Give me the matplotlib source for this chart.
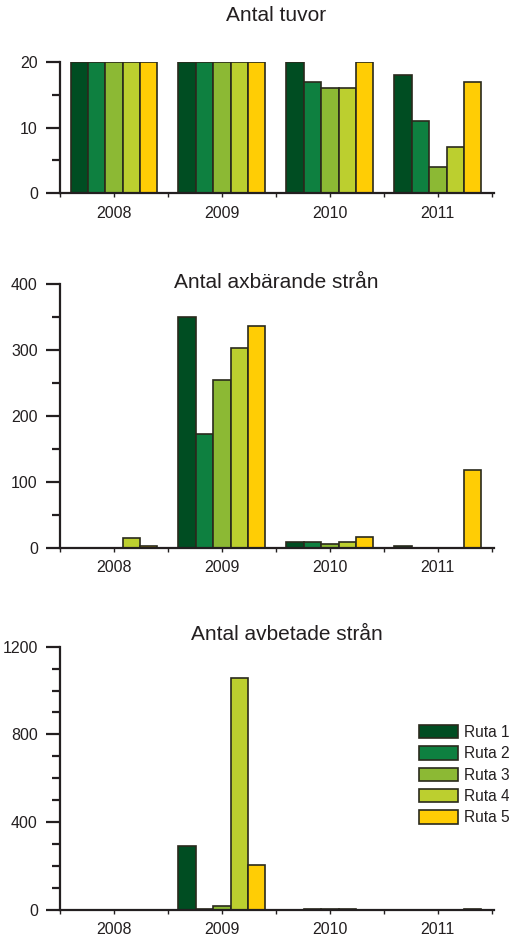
import numpy as np
import matplotlib
matplotlib.use("Agg")
import matplotlib.pyplot as plt
from matplotlib.ticker import MultipleLocator, FixedLocator

# ==========================================
# DATA
# ==========================================

years = ["2008", "2009", "2010", "2011"]
rutor = ["Ruta 1", "Ruta 2", "Ruta 3", "Ruta 4", "Ruta 5"]
colors = ["#004d22", "#0e8040", "#8cb934", "#bccf2f", "#ffcd05"]

# Antal tuvor
tuvor_r1 = [20, 20, 20, 18]
tuvor_r2 = [20, 20, 17, 11]
tuvor_r3 = [20, 20, 16, 4]
tuvor_r4 = [20, 20, 16, 7]
tuvor_r5 = [20, 20, 20, 17]

# Antal axbärande strån
ax_r1 = [0, 350, 8, 2]
ax_r2 = [0, 173, 8, 0]
ax_r3 = [0, 254, 5, 0]
ax_r4 = [14, 303, 8, 0]
ax_r5 = [2, 336, 17, 118]

# Antal avbetade strån
avb_r1 = [0, 292, 0, 0]
avb_r2 = [0, 3, 6, 0]
avb_r3 = [0, 18, 6, 0]
avb_r4 = [0, 1059, 6, 0]
avb_r5 = [0, 205, 0, 4]

panels = [
    ("Antal tuvor", [tuvor_r1, tuvor_r2, tuvor_r3, tuvor_r4, tuvor_r5], 20, 10, 5),
    ("Antal axbärande strån", [ax_r1, ax_r2, ax_r3, ax_r4, ax_r5], 400, 100, 50),
    ("Antal avbetade strån", [avb_r1, avb_r2, avb_r3, avb_r4, avb_r5], 1200, 400, 100),
]

# ==========================================
# FIGURE
# ==========================================

plt.rcParams["font.family"] = ["Liberation Sans", "DejaVu Sans"]
text_col = "#231f20"
edge_col = "#2a2a1c"

fig = plt.figure(figsize=(5.1, 9.38), dpi=100)

# axes boxes in figure fractions (left, bottom, width, height)
boxes = [
    (0.1176, 0.7942, 0.851, 0.1397),
    (0.1176, 0.4161, 0.851, 0.2808),
    (0.1176, 0.0299, 0.851, 0.2807),
]
title_pos = [(0.541, 0.984), (0.541, 0.6985), (0.563, 0.3235)]

x = np.arange(len(years))
width = 0.161

bars_for_legend = []
for (title, series, ymax, major, minor), box, tpos in zip(panels, boxes, title_pos):
    ax = fig.add_axes(box)
    for i, vals in enumerate(series):
        offs = (i - 2) * width
        b = ax.bar(x + offs, vals, width, color=colors[i], edgecolor=edge_col,
                   linewidth=1.2, label=rutor[i])
        bars_for_legend.append(b)

    ax.set_xlim(-0.5, 3.52)
    ax.set_ylim(0, ymax)
    ax.set_xticks(x)
    ax.set_xticklabels(years)
    ax.xaxis.set_minor_locator(FixedLocator([-0.5, 0.5, 1.5, 2.5, 3.5]))
    ax.yaxis.set_major_locator(MultipleLocator(major))
    ax.yaxis.set_minor_locator(MultipleLocator(minor))

    for side in ["top", "right"]:
        ax.spines[side].set_visible(False)
    for side in ["left", "bottom"]:
        ax.spines[side].set_linewidth(1.6)
        ax.spines[side].set_color(text_col)

    ax.tick_params(axis="y", which="major", length=10, width=1.6, pad=6,
                   labelsize=11.5, colors=text_col)
    ax.tick_params(axis="y", which="minor", length=6, width=1.6, colors=text_col)
    ax.tick_params(axis="x", which="both", length=3, width=1, pad=6,
                   labelsize=11.5, colors=text_col)

    fig.text(tpos[0], tpos[1], title, ha="center", va="center",
             fontsize=15, color=text_col)

# legend from the last panel's bars
handles = bars_for_legend[-5:]
fig.legend(handles, rutor, loc="upper left",
           bbox_to_anchor=(419 / 510, 1 - 725 / 938),
           frameon=False, fontsize=11.2, borderpad=0, borderaxespad=0,
           handlelength=2.5, handleheight=0.95, handletextpad=0.37,
           labelspacing=0.4, labelcolor=text_col)

fig.savefig("out.png", dpi=100)
